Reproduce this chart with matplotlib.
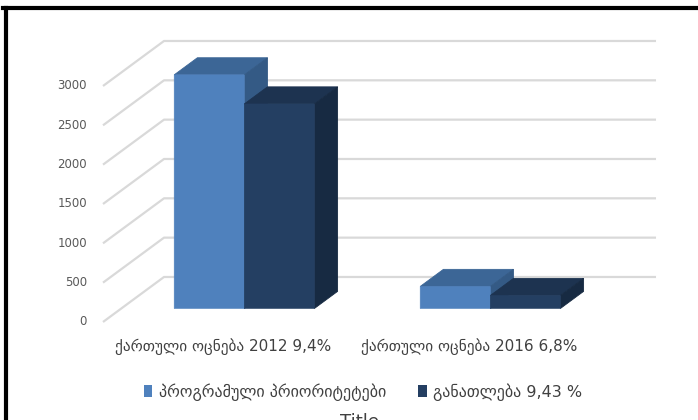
import matplotlib
matplotlib.use("Agg")
import matplotlib.pyplot as plt
import matplotlib.transforms as mtransforms
from matplotlib.patches import Polygon, Patch
from matplotlib.lines import Line2D

# data
categories = ["ქართული ოცნება 2012 9,4%", "ქართული ოცნება 2016 6,8%"]
series_names = ["პროგრამული პრიორიტეტები", "განათლება 9,43 %"]
programs = [2970, 280]
education = [2600, 165]
y_ticks = [0, 500, 1000, 1500, 2000, 2500, 3000]

# face colours (front, top, side) per series
colors = [("#4F81BD", "#3C6696", "#345A85"),
          ("#243F62", "#1D3350", "#172A42")]

# oblique 3d look: depth of the walls in data units
DX, DY = 0.248, 572
Z0, Z1 = 0.30, 0.68     # front and back of the bars, as a share of the depth
W = 0.285               # bar width

plt.rcParams['font.family'] = ['DejaVu Sans']

fig = plt.figure(figsize=(6.98, 4.2), dpi=100)
ax = fig.add_axes([0, 0, 1, 1])
ax.set_xlim(-0.9187, 1.9187)
ax.set_ylim(-1246, 4093)
ax.axis("off")

x0, x1 = -0.5, len(categories) - 0.5

# gridlines: left wall diagonal + back wall
for v in y_ticks:
    ax.plot([x0, x0 + DX, x1 + DX], [v, v + DY, v + DY],
            color="#D9D9D9", lw=1.6, zorder=1, solid_capstyle="butt")
lab_tr = mtransforms.offset_copy(ax.transData, fig=fig, x=-16, y=0, units="dots")
for v in y_ticks:
    ax.text(x0, v, str(v), transform=lab_tr, ha="right", va="center",
            fontsize=8.5, color="#595959")

# bars
for s, vals in enumerate([programs, education]):
    front, top, side = colors[s]
    xs = [i - W + s * W + Z0 * DX for i in range(len(vals))]
    bottom = Z0 * DY
    d_x = (Z1 - Z0) * DX
    d_y = (Z1 - Z0) * DY
    for xl, v in zip(xs, vals):
        xr = xl + W
        yt = bottom + v
        ax.add_patch(Polygon([(xl, yt), (xr, yt), (xr + d_x, yt + d_y), (xl + d_x, yt + d_y)],
                             closed=True, facecolor=top, edgecolor=top, lw=0.6, zorder=3 + s))
        ax.add_patch(Polygon([(xr, bottom), (xr + d_x, bottom + d_y), (xr + d_x, yt + d_y), (xr, yt)],
                             closed=True, facecolor=side, edgecolor=side, lw=0.6, zorder=3 + s))
    ax.bar(xs, vals, width=W, bottom=bottom, align="edge", color=front,
           edgecolor=front, lw=0.4, snap=False, zorder=3.5 + s)

# category labels
cat_tr = mtransforms.offset_copy(ax.transData, fig=fig, x=0, y=-25, units="dots")
for i, c in enumerate(categories):
    ax.text(i - 0.01, 0, c, transform=cat_tr, ha="center", va="center",
            fontsize=11, color="#404040")

# legend
handles = [Patch(facecolor=colors[0][0]), Patch(facecolor=colors[1][0])]
fig.legend(handles, series_names, loc="center", ncol=2, frameon=False,
           bbox_to_anchor=(363 / 698, 1 - 392 / 420), fontsize=11.5,
           handlelength=0.55, handleheight=0.8, handletextpad=0.4,
           columnspacing=2.0, labelcolor="#404040")

# cut-off chart title at the bottom edge
fig.text(360 / 698, 1 - 413 / 420, "Title", ha="center", va="top",
         fontsize=13, color="#404040")

# black frame (top and left only)
fig.add_artist(Line2D([3 / 698, 1], [1 - 8 / 420, 1 - 8 / 420], color="black", lw=3,
                      transform=fig.transFigure))
fig.add_artist(Line2D([6 / 698, 6 / 698], [0, 1 - 8 / 420], color="black", lw=3,
                      transform=fig.transFigure))

fig.savefig("out.png", dpi=100)
